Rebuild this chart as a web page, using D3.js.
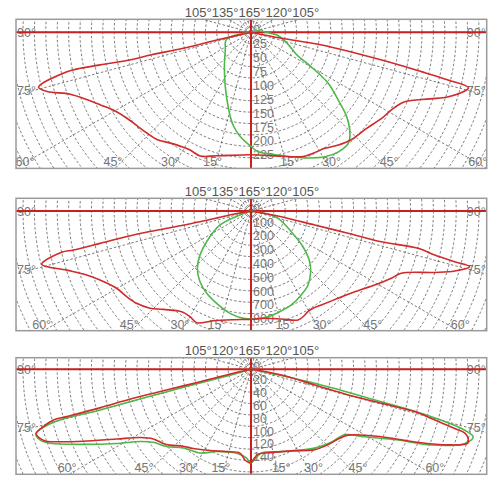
<!DOCTYPE html>
<html><head><meta charset="utf-8">
<script src="https://cdn.jsdelivr.net/npm/d3@7"></script>
<style>body{margin:0;background:#fff}svg{display:block}</style>
</head><body>
<script>
// ---- data ----
const topLabels = ["105°135°165°120°105°", "105°135°165°120°105°", "105°120°165°120°105°"];
const angleTicks = [15, 30, 45, 60, 75, 90];
const ticks1 = [0, 25, 50, 75, 100, 125, 150, 175, 200, 225];
const ticks2 = [0, 100, 200, 300, 400, 500, 600, 700, 800];
const ticks3 = [0, 20, 40, 60, 80, 100, 120, 140];

// [angle (deg, 0 = down, negative = left), intensity]
const red1 = [[-78,0],[-77.2,63],[-76.7,125],[-77.3,185],[-77.1,217],[-77.8,277],[-78.1,313],[-77.9,338],[-75.5,394],[-73.8,381],[-71.1,343],[-67.6,318],[-64.2,300],[-59.9,282],[-55.3,271],[-50,264],[-45.8,260],[-41.3,256],[-36,246],[-31.1,240],[-27.3,238],[-22.3,240],[-15.4,230],[0,220],[11,226],[18.1,235],[22.8,242],[27.2,244],[32.5,247],[37.8,256],[43.2,264],[50.3,270],[56.6,281],[61.1,288],[65.7,303],[69.6,343],[71.9,373],[75.7,403],[76.4,364],[77,314],[78,240],[79.8,129],[78.9,56],[80,0]];
const green1 = [[-90,0],[-73.7,46],[-55.4,56],[-37.8,78],[-25.3,108],[-19.5,129],[-13.8,156],[-10.4,172],[-5.9,188],[0,205],[3.5,215],[11.1,224],[18.1,235],[24.5,248],[30.7,260],[36.2,266],[41.2,265],[44.4,254],[48.6,229],[52.2,198],[56.6,166],[60.4,122],[63.7,92],[73,68],[84,47],[87,35],[101.9,14],[120,0]];
const red2 = [[-79,0],[-79.4,130],[-78.2,378],[-78.4,623],[-78.5,870],[-77.9,1119],[-77.6,1318],[-77.7,1404],[-75.7,1565],[-72.2,1402],[-68.7,1278],[-65.4,1203],[-60.1,1123],[-55.4,1094],[-51.1,1065],[-46.1,1016],[-41.7,955],[-34.5,886],[-30,884],[-25.9,900],[-19,841],[-9.2,798],[0,785],[7.3,784],[15.7,813],[23.3,860],[26.2,854],[29.5,838],[32.5,836],[36.8,851],[44.9,893],[52.1,952],[59.1,1044],[64.4,1128],[67.5,1179],[71.5,1403],[73.6,1539],[75.7,1635],[76,1521],[76.5,1369],[77.4,1240],[76.7,970],[77.1,721],[77.6,473],[79.3,223],[80,0]];
const green2 = [[-90,0],[-70,85],[-65.7,246],[-55.3,391],[-49.2,488],[-43.1,569],[-35.8,632],[-28.3,677],[-20.4,714],[-11.6,757],[-4.1,780],[2,783],[9.1,776],[15.9,759],[23.2,741],[30.9,709],[37.6,677],[44.5,617],[49.2,562],[55.5,457],[62.8,328],[74.9,203],[80.5,101],[90,0]];
const red3 = [[-77.3,0],[-77.3,28],[-76.3,81],[-76.2,135],[-76.2,188],[-75.7,242],[-75.6,295],[-75.6,316],[-74.6,334],[-73.3,348],[-70.8,338],[-69.6,322],[-66.8,283],[-62.6,235],[-58.4,202],[-54.5,186],[-49.8,178],[-46.9,172],[-41.4,159],[-36.1,152],[-26.7,141],[-16.4,133],[-7.5,131],[-3.8,141],[-0.5,145],[4.7,132],[11.5,132],[26.3,141],[38.3,159],[45.5,167],[52.1,174],[55.9,182],[62.6,227],[66.1,278],[69,327],[71.2,355],[72.4,353],[73.4,346],[73.8,329],[74.6,295],[75.5,262],[75.4,209],[75.2,156],[76.2,102],[79.3,48],[80,0]];
const green3 = [[-75,0],[-74.2,29],[-75.1,135],[-74.9,242],[-75,317],[-73.3,348],[-71.5,345],[-69.8,332],[-65.9,285],[-61.1,238],[-56.9,205],[-53.2,189],[-47.4,177],[-40.8,161],[-31.3,152],[-22.6,138],[-9.7,132],[-2.8,138],[-0.3,145],[7,131],[20.2,136],[38.9,157],[47.7,168],[55,177],[59.3,205],[64.3,253],[67.2,303],[70.9,351],[73.1,360],[74.3,339],[75.5,273],[76,208],[77.6,101],[78,0]];

// ---- layout ----
const W = 498, H = 477;
const FONT = "'Liberation Sans', Arial, Helvetica, sans-serif";
const boxL = 16, boxR = 486.7, cx = 251;
const RED = "#d12a2a", GREEN = "#4db848", AXISRED = "#c8201f";
const panels = [
  {top: 19.3, bottom: 168.4, cy: 32.3, rMax: 125.3, ticks: ticks1, red: red1, green: green1, title: topLabels[0], titleY: 16.5},
  {top: 198.3, bottom: 330.7, cy: 211, rMax: 110.4, ticks: ticks2, red: red2, green: green2, title: topLabels[1], titleY: 195.5},
  {top: 357.7, bottom: 474.3, cy: 369.3, rMax: 90.3, ticks: ticks3, red: red3, green: green3, title: topLabels[2], titleY: 355}
];
const gridStepPx = 11.4;

const svg = d3.select("body").append("svg").attr("width", W).attr("height", H);

panels.forEach((p, i) => {
  const r = d3.scaleLinear().domain([0, p.ticks[p.ticks.length - 1]]).range([0, p.rMax]);
  const toXY = d => {
    const a = d[0] * Math.PI / 180, rr = r(d[1]);
    return [cx + rr * Math.sin(a), p.cy + rr * Math.cos(a)];
  };
  const clipId = "clip" + i;
  svg.append("clipPath").attr("id", clipId).append("rect")
    .attr("x", boxL).attr("y", p.top).attr("width", boxR - boxL).attr("height", p.bottom - p.top);

  const g = svg.append("g").attr("clip-path", `url(#${clipId})`);
  // grid circles
  const nCirc = d3.range(1, 26);
  g.selectAll("circle.grid").data(nCirc).join("circle")
    .attr("cx", cx).attr("cy", p.cy).attr("r", n => n * gridStepPx)
    .attr("fill", "none").attr("stroke", "#5a5a5a").attr("stroke-width", 0.8)
    .attr("stroke-dasharray", "2.5,2");
  // radial lines
  const rad = d3.range(0, 360, 15);
  g.selectAll("line.rad").data(rad).join("line")
    .attr("x1", cx).attr("y1", p.cy)
    .attr("x2", a => cx + 320 * Math.sin(a * Math.PI / 180))
    .attr("y2", a => p.cy + 320 * Math.cos(a * Math.PI / 180))
    .attr("stroke", "#5a5a5a").attr("stroke-width", 0.8).attr("stroke-dasharray", "2.5,2");

  // tick labels (intensity)
  svg.append("g").selectAll("text").data(p.ticks).join("text")
    .attr("x", cx + 2).attr("y", v => p.cy + r(v) - 1.5)
    .attr("dominant-baseline", "middle")
    .attr("font-family", FONT).attr("font-size", 12.5).attr("fill", "#777")
    .text(v => v);

  // angle labels
  const ag = svg.append("g").attr("font-family", FONT).attr("font-size", 12.5).attr("fill", "#777");
  angleTicks.forEach(t => {
    [-1, 1].forEach(s => {
      let x, y, anchor;
      if (t === 90) {
        x = s < 0 ? boxL + 1 : boxR - 1; y = p.cy + 5; anchor = s < 0 ? "start" : "end";
      } else if (t === 75) {
        const dx = cx - boxL;
        x = s < 0 ? boxL + 1 : boxR - 1;
        y = p.cy + dx / Math.tan(t * Math.PI / 180);
        anchor = s < 0 ? "start" : "end";
      } else {
        const dy = p.bottom - p.cy;
        let ex = cx + s * dy * Math.tan(t * Math.PI / 180);
        ex = Math.max(boxL + 9, Math.min(boxR - 9, ex + s * 2));
        x = ex; y = p.bottom - 2; anchor = "middle";
      }
      ag.append("text").attr("x", x).attr("y", y).attr("text-anchor", anchor).text(t + "°");
    });
  });

  // red axes
  svg.append("line").attr("x1", boxL).attr("x2", boxR).attr("y1", p.cy).attr("y2", p.cy)
    .attr("stroke", AXISRED).attr("stroke-width", 2);
  svg.append("line").attr("x1", cx).attr("x2", cx).attr("y1", p.top).attr("y2", p.bottom)
    .attr("stroke", AXISRED).attr("stroke-width", 2);

  // curves
  const line = d3.line().curve(d3.curveCatmullRom.alpha(0.5));
  const cg = svg.append("g").attr("clip-path", `url(#${clipId})`);
  cg.append("path").attr("d", line(p.green.map(toXY))).attr("fill", "none")
    .attr("stroke", GREEN).attr("stroke-width", 1.6).attr("stroke-linejoin", "round");
  cg.append("path").attr("d", line(p.red.map(toXY))).attr("fill", "none")
    .attr("stroke", RED).attr("stroke-width", 1.6).attr("stroke-linejoin", "round");

  // box
  svg.append("rect").attr("x", boxL).attr("y", p.top).attr("width", boxR - boxL).attr("height", p.bottom - p.top)
    .attr("fill", "none").attr("stroke", "#9a9a9a").attr("stroke-width", 1.5);

  // title
  svg.append("text").attr("x", 252).attr("y", p.titleY).attr("text-anchor", "middle")
    .attr("font-family", FONT).attr("font-size", 13).attr("fill", "#555").text(p.title);
});
</script>
</body></html>
